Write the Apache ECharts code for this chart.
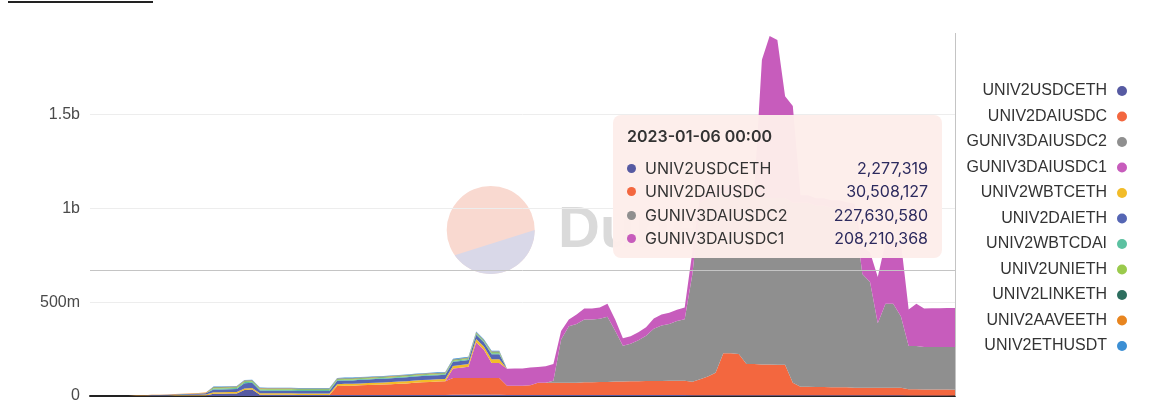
<!DOCTYPE html>
<html><head><meta charset="utf-8">
<script src="https://cdn.jsdelivr.net/npm/echarts@6/dist/echarts.min.js"></script>
<style>html,body{margin:0;padding:0;background:#fff;overflow:hidden}#c{width:1152px;height:404px}</style>
</head><body><div id="c"></div>
<script>
// ---- categories (weekly dates) ----
const START_DATE = '2020-11-13';
const STEP_DAYS = 7;
const N_POINTS = 113;
const HOVER_INDEX = 112;
const CROSS_VALUE = 671; // millions, horizontal pointer line

const seriesNames = ['UNIV2USDCETH','UNIV2DAIUSDC','GUNIV3DAIUSDC2','GUNIV3DAIUSDC1','UNIV2WBTCETH','UNIV2DAIETH','UNIV2WBTCDAI','UNIV2UNIETH','UNIV2LINKETH','UNIV2AAVEETH','UNIV2ETHUSDT'];

// ---- series values (millions) ----
const UNIV2USDCETH = [0,0,0,0,0,0, 1,1,1,1, 1,2,2,2,3,3, 12,12,13,13, 32,34, 7,6,6,6,6,5,5,5,5,5,
 5,5,5,5,5,5,5,5,5,5,5,5,5,5,5, 6,6,6,6,6,6,6,
 5,5,5,5,5,5,5,5,5,5,5,5,5,5,5,5,5,5,5,5,5,5,5,5,
 4,4,4,4,4,4,4,4,4,4,4,4,4,4,4,4,4,4,4,4,4,4,4,4,4,4,4,4,
 3,3,3,3,3,3, 2.277319];
const UNIV2DAIUSDC = [0,0,0,0,0,0,0,0,0,0,0,0,0,0,0,0,0,0,0,0,0,0,0,0,0,0,0,0,0,0,0,0,
 48,50,50,52,53,55,56,58,60,62,66,68,70,72,74,
 90,90,90,90,90,90,90,
 50,50,50,52,65,65,
 66,66,66,66,68,68,
 70,70,72,72,74,74,75,75,75,76,76,76,
 72,
 85,100,120,224,224,220,166,166,164,164,162,162,66,45,45,44,44,43,42,42,
 40,40,40,40,40,40,40,
 33,33,32,32,31,31, 30.508127];
const GUNIV3DAIUSDC2 = [0,0,0,0,0,0,0,0,0,0,0,0,0,0,0,0,0,0,0,0,0,0,0,0,0,0,0,0,0,0,
 0,0,0,0,0,0,0,0,0,0,0,0,0,0,0,0,0,0,0,0,0,0,0,0,0,0,0,0,0,0,
 10,230,300,313,335,335,336,347,271,191,199,218,241,278,296,303,319,328,
 574,
 940,951,942,854,854,858,896,885,887,887,889,889,959,980,980,965,965,956,957,946,
 940,606,564,343,448,448,380,
 230,230,226,226,227,227, 227.63058];
const GUNIV3DAIUSDC1 = [0,0,0,0,0,0,0,0,0,0,0,0,0,0,0,0,0,0,0,0,0,0,0,0,0,0,0,0,0,0,
 0,0,0,0,0,0,0,0,0,0,0,0,0,0,0,0,0,
 50,55,60,190,150,80,80,
 90,92,92,95,85,88,
 90,45,37,50,58,58,60,70,60,40,40,42,45,55,58,60,60,62,
 120,
 40,40,40,40,40,40,40,40,
 737,863,842,542,516,
 40,40,40,40,40,40,40,40,
 142,158,247,326,326,394,
 195,226,205,206,207,208, 208.210368];
const UNIV2WBTCETH = [0,0,0,0,0,0, 1,1,2,2,2,3,3,4,4,5,
 8,8,8,8,8,8,8,8,8,8,8,8,8,8,8,8,
 10,10,10,10,11,11,11,11,12,12,12,12,12,12,12,
 14,14,14,18,18,20,20,
 0,0,0,0,0,0,0,0,0,0,0,0,0,0,0,0,0,0,0,0,0,0,0,0,0,0,0,0,0,0,
 0,0,0,0,0,0,0,0,0,0,0,0,0,0,0,0,0,0,0,0,0,0,0,0,0,0,0,0,0];
const UNIV2DAIETH = [0,0,0,0,0,0, 1,1,2,2,3,3,4,4,5,6,
 15,15,15,16,28,28,
 14,14,14,14,14,14,14,14,14,14,
 18,18,18,19,19,19,20,20,20,21,21,21,22,22,22,
 22,22,22,22,22,26,26,
 0,0,0,0,0,0,0,0,0,0,0,0,0,0,0,0,0,0,0,0,0,0,0,0,0,0,0,0,0,0,
 0,0,0,0,0,0,0,0,0,0,0,0,0,0,0,0,0,0,0,0,0,0,0,0,0,0,0,0,0];
const UNIV2WBTCDAI = [0,0,0,0,0,0,0,0,0,0, 0,0,1,1,1,1,
 5,5,5,5,6,6,
 5,5,5,5,5,5,5,5,5,5,
 4,4,4,4,4,4,4,4,4,4,4,4,4,4,4,
 5,5,5,5,5,6,6,
 0,0,0,0,0,0,0,0,0,0,0,0,0,0,0,0,0,0,0,0,0,0,0,0,0,0,0,0,0,0,
 0,0,0,0,0,0,0,0,0,0,0,0,0,0,0,0,0,0,0,0,0,0,0,0,0,0,0,0,0];
const UNIV2UNIETH = [0,0,0,0,0,0,0,0,0,0,0,0,0,0,0,0,
 4,4,4,4,4,4,4,4,4,4,4,4,4,4,4,4,4,4,4,4,4,4,4,4,4,4,4,4,4,4,4,
 4,4,4,4,4,5,5,
 0,0,0,0,0,0,0,0,0,0,0,0,0,0,0,0,0,0,0,0,0,0,0,0,0,0,0,0,0,0,
 0,0,0,0,0,0,0,0,0,0,0,0,0,0,0,0,0,0,0,0,0,0,0,0,0,0,0,0,0];
const UNIV2LINKETH = [0,0,0,0,0,0,0,0,0,0,0,0,0,0,0,0,
 2,2,2,2,2,2,2,2,2,2,2,2,2,2,2,2,2,2,2,2,2,2,2,2,2,2,2,2,2,2,2,2,2,2,2,2,2,2,
 0,0,0,0,0,0,0,0,0,0,0,0,0,0,0,0,0,0,0,0,0,0,0,0,0,0,0,0,0,0,
 0,0,0,0,0,0,0,0,0,0,0,0,0,0,0,0,0,0,0,0,0,0,0,0,0,0,0,0,0];
const UNIV2AAVEETH = [0,0,0,0,0,0, 1,1,1,1,2,2,2,2,3,3,
 2,2,2,2,2,2,2,2,2,2,2,2,2,2,2,2,2,2,2,2,2,2,2,2,2,2,2,2,2,2,2,2,2,2,2,2,2,2,
 0,0,0,0,0,0,0,0,0,0,0,0,0,0,0,0,0,0,0,0,0,0,0,0,0,0,0,0,0,0,
 0,0,0,0,0,0,0,0,0,0,0,0,0,0,0,0,0,0,0,0,0,0,0,0,0,0,0,0,0];
const UNIV2ETHUSDT = [0,0,0,0,0,0,0,0,0,0,0,0,0,0,0,0,
 3,3,3,3,3,3,3,3,3,3,3,3,3,3,3,3,3,3,3,3,3,3,3,3,3,3,3,3,3,3,3,
 4,4,4,4,4,4,4,
 0,0,0,0,0,0,0,0,0,0,0,0,0,0,0,0,0,0,0,0,0,0,0,0,0,0,0,0,0,0,
 0,0,0,0,0,0,0,0,0,0,0,0,0,0,0,0,0,0,0,0,0,0,0,0,0,0,0,0,0];

// ---- y ticks ----
const Y_TICK_STEP = 500;
const Y_MAX = 1934;

// ---- build ----
const dates = [];
{
  const t0 = Date.parse(START_DATE + 'T00:00:00Z');
  for (let i = 0; i < N_POINTS; i++) {
    dates.push(new Date(t0 + i * STEP_DAYS * 86400000).toISOString().slice(0, 10));
  }
}
const valueLists = [UNIV2USDCETH,UNIV2DAIUSDC,GUNIV3DAIUSDC2,GUNIV3DAIUSDC1,UNIV2WBTCETH,UNIV2DAIETH,UNIV2WBTCDAI,UNIV2UNIETH,UNIV2LINKETH,UNIV2AAVEETH,UNIV2ETHUSDT];
const colors = ['#565aa2','#f3673f','#8f8f8f','#c75cbc','#f2bc29','#5566b4','#5cc1a1','#9aca4c','#2d6e5f','#e8851f','#3c8fd4'];
const FONT = '"Liberation Sans", Arial, sans-serif';

const series = valueLists.map((vals, k) => ({
  name: seriesNames[k],
  type: 'line',
  stack: 'total',
  data: vals,
  symbol: 'none',
  showSymbol: false,
  lineStyle: { width: 0 },
  areaStyle: { opacity: 1, color: colors[k] },
  itemStyle: { color: colors[k] },
  emphasis: { disabled: true },
  z: 2
}));
series[0].markLine = {
  silent: true, symbol: 'none', animation: false,
  label: { show: false },
  lineStyle: { color: '#c4c4c4', width: 1, type: 'solid' },
  data: [{ yAxis: CROSS_VALUE }]
};

// Dune watermark
const wcx = 490.7, wcy = 230, wr = 44;
const lowerPts = [];
for (let a = 0; a <= 145; a += 5) {
  const t = a * Math.PI / 180;
  lowerPts.push([wcx + wr * Math.cos(t), wcy + wr * Math.sin(t)]);
}

const chart = echarts.init(document.getElementById('c'), null, { renderer: 'canvas' });
chart.setOption({
  animation: false,
  color: colors,
  textStyle: { fontFamily: FONT },
  grid: { left: 90, right: 197, top: 33, bottom: 3.5, containLabel: false },
  xAxis: {
    type: 'category', data: dates, boundaryGap: false,
    axisLine: { show: true, lineStyle: { color: '#222', width: 2 } },
    axisTick: { show: false }, axisLabel: { show: false }, splitLine: { show: false }
  },
  yAxis: {
    type: 'value', min: 0, max: Y_MAX, interval: Y_TICK_STEP,
    axisLine: { show: false }, axisTick: { show: false },
    axisLabel: {
      showMaxLabel: false, margin: 10, color: '#4a4a4a', fontSize: 16, fontFamily: FONT,
      formatter: v => v === 0 ? '0' : (v >= 1000 ? (v / 1000) + 'b' : v + 'm')
    },
    splitLine: { show: true, lineStyle: { color: ['#ededed','#ededed','#ededed','#ededed','rgba(0,0,0,0)'], width: 1 } }
  },
  legend: {
    orient: 'vertical', right: 20, top: 78, align: 'right',
    icon: 'circle', itemWidth: 10, itemHeight: 10, itemGap: 9.5,
    data: seriesNames,
    textStyle: { fontSize: 16, lineHeight: 16, color: '#333', fontFamily: FONT, width: 146, overflow: 'truncate', ellipsis: '', padding: [0, 5, 0, 0] }
  },
  tooltip: {
    trigger: 'axis', triggerOn: 'none', alwaysShowContent: true,
    transitionDuration: 0,
    position: [613, 115],
    backgroundColor: 'rgba(253,237,234,0.97)',
    borderWidth: 0, padding: [11, 14, 6, 14],
    extraCssText: 'box-shadow:none;border-radius:8px;width:329px;height:143px;box-sizing:border-box;',
    axisPointer: { type: 'line', lineStyle: { color: '#c4c4c4', width: 1, type: 'solid' }, animation: false },
    formatter: params => {
      let h = '<div style="font-family:Inter,sans-serif;font-weight:600;font-size:16px;line-height:20px;color:#333;margin-bottom:11px">' + params[0].axisValue + ' 00:00</div>';
      params.forEach(p => {
        if (!p.value) return;
        h += '<div style="display:flex;justify-content:space-between;align-items:center;height:23.3px;font-family:Inter,sans-serif;font-size:16px">' +
          '<span style="display:flex;align-items:center;color:#333"><span style="display:inline-block;width:9px;height:9px;border-radius:50%;background:' + p.color + ';margin-right:9px"></span>' + p.seriesName + '</span>' +
          '<span style="color:#2c2a5e">' + Math.round(p.value * 1e6).toLocaleString('en-US') + '</span></div>';
      });
      return h;
    }
  },
  graphic: [
    { type: 'circle', silent: true, z: 0, shape: { cx: wcx, cy: wcy, r: wr }, style: { fill: '#f9d9d0' } },
    { type: 'polygon', silent: true, z: 0, shape: { points: lowerPts }, style: { fill: '#d9d8e8' } },
    { type: 'text', silent: true, z: 0, x: 558, y: 231, style: { text: 'Dune', font: 'bold 58px "Liberation Sans", Arial, sans-serif', fill: '#dadada', verticalAlign: 'middle' } },
    { type: 'rect', silent: true, z: 0, shape: { x: 8, y: 1, width: 145, height: 2 }, style: { fill: '#222' } }
  ],
  series: series
});
chart.dispatchAction({ type: 'showTip', seriesIndex: 0, dataIndex: HOVER_INDEX });
</script>
</body></html>
